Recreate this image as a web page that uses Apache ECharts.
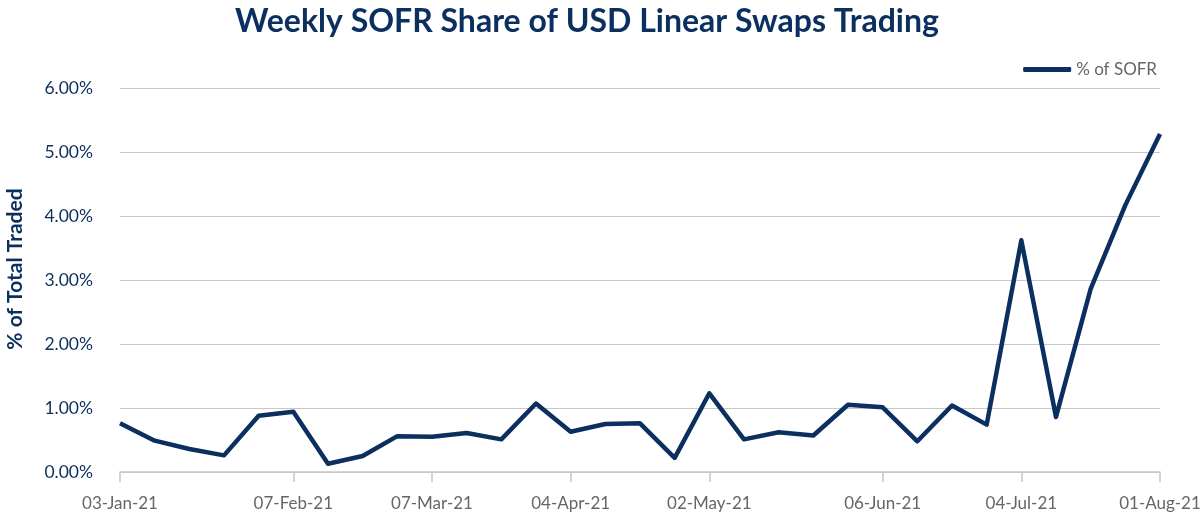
<!DOCTYPE html>
<html>
  <head>
    <meta charset="utf-8">
    <script src="https://cdn.jsdelivr.net/npm/echarts@6/dist/echarts.min.js"></script>
  </head>
  <body style="margin:0">
    <div id="main" style="width: 1200px; height: 524px"></div>
    <script type="text/javascript">
      // weekly dates, 03-Jan-21 .. 01-Aug-21
      var weeks = ['03-Jan-21', '10-Jan-21', '17-Jan-21', '24-Jan-21', '31-Jan-21',
        '07-Feb-21', '14-Feb-21', '21-Feb-21', '28-Feb-21', '07-Mar-21',
        '14-Mar-21', '21-Mar-21', '28-Mar-21', '04-Apr-21', '11-Apr-21',
        '18-Apr-21', '25-Apr-21', '02-May-21', '09-May-21', '16-May-21',
        '23-May-21', '30-May-21', '06-Jun-21', '13-Jun-21', '20-Jun-21',
        '27-Jun-21', '04-Jul-21', '11-Jul-21', '18-Jul-21', '25-Jul-21', '01-Aug-21'];

      // which dates get a label on the x axis
      var tickLabels = ['03-Jan-21', '07-Feb-21', '07-Mar-21', '04-Apr-21',
        '02-May-21', '06-Jun-21', '04-Jul-21', '01-Aug-21'];

      // % of SOFR
      var sofrShare = [0.76, 0.49, 0.36, 0.26, 0.88, 0.94, 0.13, 0.25, 0.56, 0.55,
        0.61, 0.51, 1.07, 0.63, 0.75, 0.76, 0.22, 1.23, 0.51, 0.62,
        0.57, 1.05, 1.01, 0.48, 1.04, 0.74, 3.62, 0.86, 2.86, 4.17, 5.28];

      var navy = '#0b2f5e';
      var myChart = echarts.init(document.getElementById('main'));

      function showTick(idx, val) {
        return tickLabels.indexOf(weeks[idx]) >= 0;
      }

      myChart.setOption({
        animation: false,
        title: {
          text: 'Weekly SOFR Share of USD Linear Swaps Trading',
          left: 582,
          textAlign: 'center',
          top: 1,
          textStyle: {
            color: navy,
            fontFamily: 'Lato',
            fontWeight: 'bold',
            fontSize: 32
          }
        },
        legend: {
          right: 38,
          top: 56,
          itemWidth: 48,
          itemHeight: 5,
          itemGap: 8,
          icon: 'roundRect',
          textStyle: { color: '#666', fontFamily: 'Lato', fontSize: 17 },
          data: ['% of SOFR']
        },
        grid: { left: 120, right: 40, top: 88, bottom: 52, outerBoundsMode: 'none' },
        xAxis: {
          type: 'category',
          data: weeks,
          boundaryGap: false,
          axisLine: { lineStyle: { color: '#c8c8c8', width: 1.5 } },
          axisTick: { interval: showTick, length: 10, lineStyle: { color: '#c8c8c8', width: 1.5 } },
          axisLabel: {
            interval: showTick,
            color: '#666',
            fontFamily: 'Lato',
            fontSize: 17,
            margin: 23
          },
          splitLine: { show: false }
        },
        yAxis: {
          type: 'value',
          min: 0,
          max: 6,
          interval: 1,
          name: '% of Total Traded',
          nameLocation: 'middle',
          nameGap: 94,
          nameRotate: 90,
          nameTextStyle: {
            color: navy, fontFamily: 'Lato', fontWeight: 'bold', fontSize: 21,
            padding: [0, 0, 0, 22]
          },
          axisLine: { show: false },
          axisTick: { show: false },
          axisLabel: {
            color: navy,
            fontFamily: 'Lato',
            fontSize: 17.5,
            margin: 27,
            formatter: function (v) { return v.toFixed(2) + '%'; }
          },
          splitLine: { lineStyle: { color: '#c8c8c8', width: 1.2 } }
        },
        series: [{
          name: '% of SOFR',
          type: 'line',
          data: sofrShare,
          showSymbol: false,
          symbol: 'none',
          lineStyle: { color: navy, width: 4.5, join: 'round' },
          itemStyle: { color: navy }
        }]
      });
    </script>
  </body>
</html>
